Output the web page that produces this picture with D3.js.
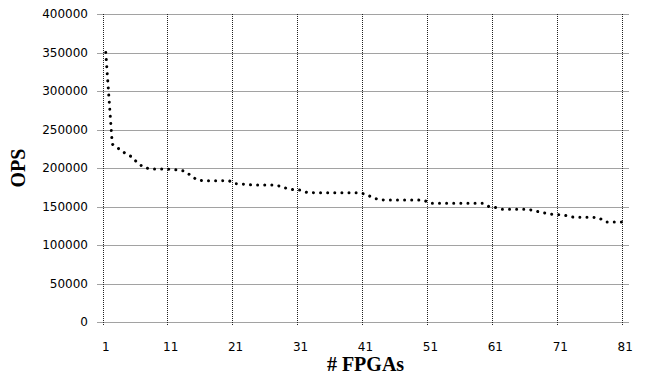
<!DOCTYPE html>
<html>
<head>
<meta charset="utf-8">
<script src="https://cdn.jsdelivr.net/npm/d3@7"></script>
<style>
  body { margin: 0; background: #fff; }
  .tick-label { font-family: "DejaVu Sans", sans-serif; font-size: 12px; fill: #000; }
  .axis-title { font-family: "Liberation Serif", serif; font-weight: bold; font-size: 20px; fill: #000; }
</style>
</head>
<body>
<svg width="645" height="383"></svg>
<script>
// # FPGAs (categories)
var fpgas = [1, 2, 3, 4, 5, 6, 7, 8, 9, 10, 11, 12, 13, 14, 15, 16, 17, 18, 19, 20,
  21, 22, 23, 24, 25, 26, 27, 28, 29, 30, 31, 32, 33, 34, 35, 36, 37, 38, 39, 40,
  41, 42, 43, 44, 45, 46, 47, 48, 49, 50, 51, 52, 53, 54, 55, 56, 57, 58, 59, 60,
  61, 62, 63, 64, 65, 66, 67, 68, 69, 70, 71, 72, 73, 74, 75, 76, 77, 78, 79, 80, 81];

// OPS
var ops = [350000, 231000, 225000, 219000, 214500, 205700, 200300, 198700, 198700, 198700,
  198300, 197400, 196200, 190900, 184700, 183500, 183500, 183500, 183500, 183300,
  179600, 179200, 178200, 177900, 177900, 177900, 177900, 176100, 173000, 171800,
  171200, 168200, 168000, 168000, 168000, 168000, 168000, 168000, 168000, 168000,
  166000, 162000, 159000, 158400, 158400, 158400, 158400, 158400, 158400, 158000,
  154200, 154200, 154200, 154200, 154200, 154200, 154200, 154200, 154200, 150000,
  148700, 146400, 146400, 146400, 146400, 146400, 144500, 142500, 141000, 139600,
  139300, 138000, 136100, 136000, 136000, 136000, 135000, 129900, 129900, 129900, 129900];

var xLabels = [1, 11, 21, 31, 41, 51, 61, 71, 81];
var yTicks = [0, 50000, 100000, 150000, 200000, 250000, 300000, 350000, 400000];

var svg = d3.select("svg");
var plotLeft = 102.5, plotRight = 628.5, plotTop = 14, plotBottom = 322;

var x = d3.scaleBand().domain(fpgas).range([plotLeft, plotRight]).padding(0);
var y = d3.scaleLinear().domain([0, 400000]).range([plotBottom, plotTop]);
var bw = x.bandwidth();

var grid = svg.append("g").attr("class", "grid");

// horizontal gridlines (with the little outside tick on the left)
grid.selectAll(".hline")
  .data(yTicks)
  .enter().append("line")
  .attr("class", "hline")
  .attr("x1", plotLeft - 5)
  .attr("x2", plotRight)
  .attr("y1", function (d) { return Math.round(y(d)) + 0.5; })
  .attr("y2", function (d) { return Math.round(y(d)) + 0.5; })
  .attr("stroke", "#444")
  .attr("stroke-width", 1)
  .attr("stroke-dasharray", "1,1");

// vertical gridlines at the tick marks
grid.selectAll(".vline")
  .data(xLabels)
  .enter().append("line")
  .attr("class", "vline")
  .attr("x1", function (d) { return Math.round(x(d)) + 0.5; })
  .attr("x2", function (d) { return Math.round(x(d)) + 0.5; })
  .attr("y1", plotTop)
  .attr("y2", plotBottom + 4)
  .attr("stroke", "#222")
  .attr("stroke-width", 1)
  .attr("stroke-dasharray", "1,1");

// y tick labels
svg.selectAll(".ylab")
  .data(yTicks)
  .enter().append("text")
  .attr("class", "tick-label")
  .attr("x", 88)
  .attr("y", function (d) { return y(d); })
  .attr("dy", "0.36em")
  .attr("text-anchor", "end")
  .text(function (d) { return d; });

// x tick labels, centred in their category
svg.selectAll(".xlab")
  .data(xLabels)
  .enter().append("text")
  .attr("class", "tick-label")
  .attr("x", function (d) { return x(d) + bw / 2; })
  .attr("y", 351)
  .attr("text-anchor", "middle")
  .text(function (d) { return d; });

// the series, drawn as a round-dot line
var line = d3.line()
  .x(function (d, i) { return x(fpgas[i]) + bw / 2; })
  .y(function (d) { return y(d); });

svg.append("path")
  .datum(ops)
  .attr("d", line)
  .attr("fill", "none")
  .attr("stroke", "#000")
  .attr("stroke-width", 3)
  .attr("stroke-linecap", "round")
  .attr("stroke-dasharray", "0.01,7.1");

// axis titles
svg.append("text")
  .attr("class", "axis-title")
  .attr("x", (plotLeft + plotRight) / 2)
  .attr("y", 371)
  .attr("text-anchor", "middle")
  .text("# FPGAs");

svg.append("text")
  .attr("class", "axis-title")
  .attr("transform", "translate(25," + ((plotTop + plotBottom) / 2) + ") rotate(-90)")
  .attr("text-anchor", "middle")
  .text("OPS");
</script>
</body>
</html>
